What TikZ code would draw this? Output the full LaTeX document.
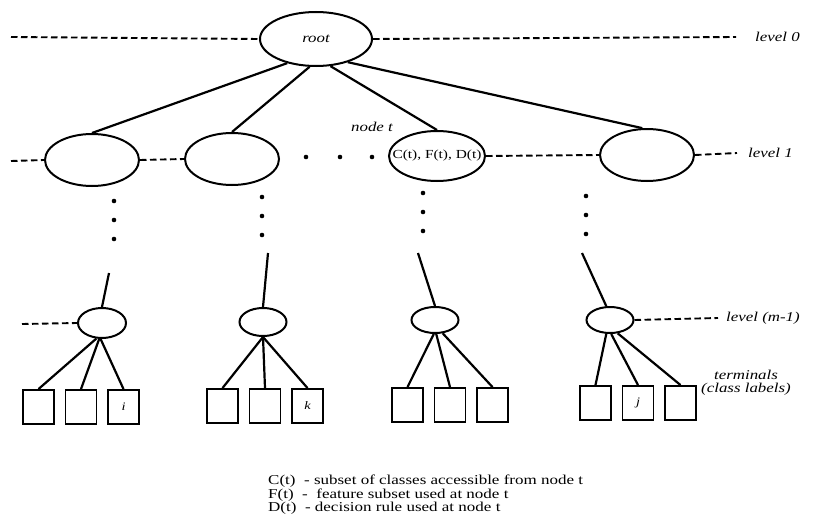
\documentclass[tikz,border=0pt]{standalone}
\usepackage{fontspec}
\setmainfont{Liberation Serif}[FakeStretch=1.25]
\usepackage{tikz}
\usetikzlibrary{shapes.geometric}

\begin{document}
\begin{tikzpicture}[x=1pt, y=-1pt, node distance=42.5pt]
		\tikzstyle{bignode} = [draw, line width=2pt, ellipse, minimum width=94pt, minimum height=52pt, inner sep=0pt]
		\tikzstyle{subnode} = [draw, line width=2pt, ellipse, minimum width=47pt, minimum height=28pt, inner sep=0pt]
		\tikzstyle{square} = [draw, line width=1.9pt, minimum width=31pt, minimum height=34pt, inner sep=0pt, font=\itshape\fontsize{11.5}{11.5}\selectfont]
		\tikzstyle{lvl} = [line width=1.9pt, dash pattern=on 6.5pt off 3.5pt]
		\tikzstyle{tag} = [inner sep=0pt, font=\itshape\fontsize{13.5}{13.5}\selectfont]

		\useasboundingbox (0,0) rectangle (814,519);

		% tree: root and level 1
		\path[line width=2.2pt]
		node[bignode, minimum width=112pt, minimum height=54pt] (root) at (316,39) {\itshape\fontsize{13.5}{13.5}\selectfont root}
		node[bignode] (n1) at (92,160) {}
		node[bignode] (n2) at (232,159) {}
		node[bignode, minimum width=96pt, minimum height=50pt] (t) at (437,156) {\fontsize{12.3}{12.3}\selectfont\makebox[0pt]{C(t), F(t), D(t)}}
		node[bignode] (n4) at (647,155) {}

		(root.220) edge (n1.north)
		(root.257) edge (n2.north)
		(root.298) edge (t.north)
		(root.324) edge (n4.100)
		;

		% level (m-1) nodes
		\path[line width=2.2pt]
		node[subnode, minimum width=48pt, minimum height=30pt] (s1) at (102,323) {}
		node[subnode] (s2) at (263,322) {}
		node[subnode, minimum height=26pt] (s3) at (435,320) {}
		node[subnode, minimum height=26pt] (s4) at (610,320) {}
		coordinate (t1) at (109,273)
		coordinate (t2) at (268,253)
		coordinate (t3) at (418,253)
		coordinate (t4) at (582,253)

		(t1) edge (s1.north)
		(t2) edge (s2.north)
		(t3) edge (s3.north)
		(t4) edge (s4.105)
		;

		% terminals
		\path[line width=2.2pt]
		node[square] (b11) at (38.5,407) {}
		node[square, right of=b11] (b12) {}
		node[square, right of=b12] (b13) {i}
		node[square] (b21) at (222.5,406) {}
		node[square, right of=b21] (b22) {}
		node[square, right of=b22] (b23) {k}
		node[square] (b31) at (407.5,405) {}
		node[square, right of=b31] (b32) {}
		node[square, right of=b32] (b33) {}
		node[square] (b41) at (595.5,403) {}
		node[square, right of=b41] (b42) {j}
		node[square, right of=b42] (b43) {}

		(s1.250) edge (b11.north)
		(s1.260) edge (b12.north)
		(s1.265) edge (b13.north)
		(s2.south) edge (b21.north)
		(s2.south) edge (b22.north)
		(s2.south) edge (b23.north)
		(s3.265) edge (b31.north)
		(s3.275) edge (b32.north)
		(s3.300) edge (b33.north)
		(s4.255) edge (b41.north)
		(s4.275) edge (b42.north)
		(s4.300) edge (b43.north)
		;

		% dotted continuations
		\foreach \x/\y in {114/201, 262/197, 423/193, 586/196}
			\foreach \d in {0,19,38}
				\fill (\x,\y+\d) circle (2.3pt);
		\foreach \x in {306,340,372}
			\fill (\x,157) circle (2.3pt);

		% levels
		\coordinate (l0a) at (11,37);
		\coordinate (l0b) at (736,37);
		\coordinate (l1a) at (11,161);
		\coordinate (l1b) at (737,153);
		\coordinate (lma) at (22,324);
		\coordinate (lmb) at (718,318);
		\draw[lvl] (l0a) -- (root.west) (root.east) -- (l0b);
		\draw[lvl] (l1a) -- (n1.west) (n1.east) -- (n2.west) (t.east) -- (n4.west) (n4.east) -- (l1b);
		\draw[lvl] (lma) -- (s1.west) (s4.east) -- (lmb);

		\node[tag, anchor=west] (lv0) at (755,37) {level 0};
		\node[tag, anchor=west] (lv1) at (748,153) {level 1};
		\node[tag, anchor=west] (lvm) at (726,318) {level (m-1)};
		\node[tag] (nodet) at (372,127) {node t};
		\node[tag, align=center] (term) at (746,383) {terminals\\(class labels)};

		% legend
		\node[anchor=north west, align=left, inner sep=0pt, font=\fontsize{13.6}{13.3}\selectfont] (legend) at (268,475)
		{C(t)\ \ - subset of classes accessible from node t\\
		F(t)\ \ -\ \ feature subset used at node t\\
		D(t)\ \ - decision rule used at node t};
\end{tikzpicture}
\end{document}
